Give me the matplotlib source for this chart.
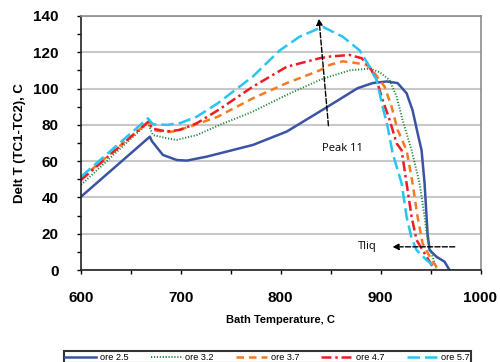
import numpy as np
import matplotlib.pyplot as plt
from matplotlib.ticker import MultipleLocator

# ore 2.5
x_25 = [600, 669, 671, 682, 696, 706, 726, 739, 772, 806, 839, 877, 892, 906, 917,
        926, 932, 937, 941, 944, 947, 949, 956, 964, 969]
y_25 = [40.4, 73.5, 71, 63.4, 60.6, 60.3, 62.5, 64.3, 68.9, 76.3, 87.3, 100.2, 103, 103.9, 103,
        97.4, 88, 75.5, 66, 47.8, 20, 11, 7.3, 4.6, 0]

# ore 3.2
x_32 = [600, 667, 672, 686, 696, 716, 739, 772, 806, 839, 849, 869, 889, 899, 909,
        916, 922, 931, 939, 944, 947, 952, 956]
y_32 = [46.9, 81, 74.4, 72.6, 71.7, 74.4, 80, 87.3, 96.5, 104.7, 106.6, 110, 111, 109, 104.7,
        95.5, 82.7, 66, 47.8, 29.4, 16.5, 7.3, 1]

# ore 3.7
x_37 = [600, 668, 671, 682, 692, 709, 737, 772, 806, 839, 849, 862, 876, 886, 894,
        904, 911, 917, 926, 932, 937, 942, 951, 957]
y_37 = [50.5, 81.8, 77.2, 76.3, 76.3, 79, 84.5, 94.6, 103, 110, 113, 115, 114, 113, 108.4,
        101, 90, 77.2, 66, 47.8, 29.4, 14.7, 5.5, 1]

# ore 4.7
x_47 = [600, 668, 671, 686, 699, 716, 737, 772, 806, 839, 849, 869, 881, 889, 896,
        902, 909, 916, 921, 926, 931, 936, 944, 951, 954]
y_47 = [49.6, 82, 78, 76.3, 77.2, 80.9, 88, 101, 112, 116.7, 117.6, 118.5, 116.7, 112, 104.7,
        93.7, 82.7, 69.8, 66, 47.8, 29.4, 16.5, 9.2, 2.8, 0]

# ore 5.7
x_57 = [600, 667, 672, 686, 699, 716, 737, 772, 799, 819, 842, 862, 879, 889, 896,
        902, 907, 912, 916, 921, 926, 931, 936, 946, 956]
y_57 = [51.4, 83.6, 80.3, 80, 80.9, 84.5, 91.9, 106.6, 121, 128.6, 134, 128.6, 121, 112, 104.7,
        90, 79, 64.3, 57, 47.8, 29.4, 17.5, 11, 5.5, 1]

plt.rcParams['font.family'] = ['Liberation Sans', 'DejaVu Sans']

fig = plt.figure(figsize=(5, 3.62), dpi=100)
ax = fig.add_axes([0.162, 0.254, 0.799, 0.702])

ax.plot(x_25, y_25, color='#3a53a4', lw=1.8, ls='-', label='ore 2.5')
ax.plot(x_32, y_32, color='#1f8a3a', lw=1.4, ls=(0, (0.6, 0.9)), label='ore 3.2')
ax.plot(x_37, y_37, color='#f47b20', lw=1.8, ls=(0, (3, 2)), label='ore 3.7')
ax.plot(x_47, y_47, color='#ee1c25', lw=1.8, ls=(0, (4, 1.5, 1, 1.5)), label='ore 4.7')
ax.plot(x_57, y_57, color='#27c4f4', lw=1.8, ls=(0, (5, 2)), label='ore 5.7')

ax.set_xlim(600, 1000)
ax.set_ylim(0, 140)
ax.xaxis.set_major_locator(MultipleLocator(100))
ax.xaxis.set_minor_locator(MultipleLocator(50))
ax.yaxis.set_major_locator(MultipleLocator(20))
ax.yaxis.set_minor_locator(MultipleLocator(10))
ax.tick_params(which='both', direction='out', length=3, width=1, colors='black')
ax.tick_params(axis='x', labelsize=11, pad=12)
ax.tick_params(axis='y', labelsize=11, pad=13)
for lab in ax.get_xticklabels() + ax.get_yticklabels():
    lab.set_fontweight('bold')

ax.grid(True, axis='y', color='#c8c8c8', lw=1.5)
ax.set_axisbelow(True)
for s in ['top', 'right']:
    ax.spines[s].set_color('#8c8c8c')
    ax.spines[s].set_linewidth(1.2)
for s in ['left', 'bottom']:
    ax.spines[s].set_color('#222222')
    ax.spines[s].set_linewidth(1.2)

ax.set_xlabel('Bath Temperature, C', fontsize=8, fontweight='bold', labelpad=7)
ax.set_ylabel('Delt T (TC1-TC2), C', fontsize=9.5, fontweight='bold', labelpad=5)

# annotations
ax.annotate('', xy=(838, 140), xytext=(848, 78),
            arrowprops=dict(arrowstyle='-|>', ls='--', color='black', lw=1,
                            mutation_scale=9), annotation_clip=False)
ax.text(862, 67, 'Peak 11', fontsize=8, ha='center', va='center', family='Open Sans')
ax.annotate('', xy=(909, 12.8), xytext=(977, 12.8),
            arrowprops=dict(arrowstyle='-|>', ls='--', color='black', lw=1,
                            mutation_scale=9))
ax.text(887, 12.8, 'Tliq', fontsize=8, ha='center', va='center', family='Open Sans')

leg = fig.legend(loc='upper center', bbox_to_anchor=(0.535, 0.042), ncol=5,
                 fontsize=6.6, frameon=True, fancybox=False, edgecolor='black',
                 handlelength=3.4, columnspacing=2.4, handletextpad=0.4,
                 borderpad=0.15)
leg.get_frame().set_linewidth(1.5)

fig.savefig('out.png', dpi=100)
